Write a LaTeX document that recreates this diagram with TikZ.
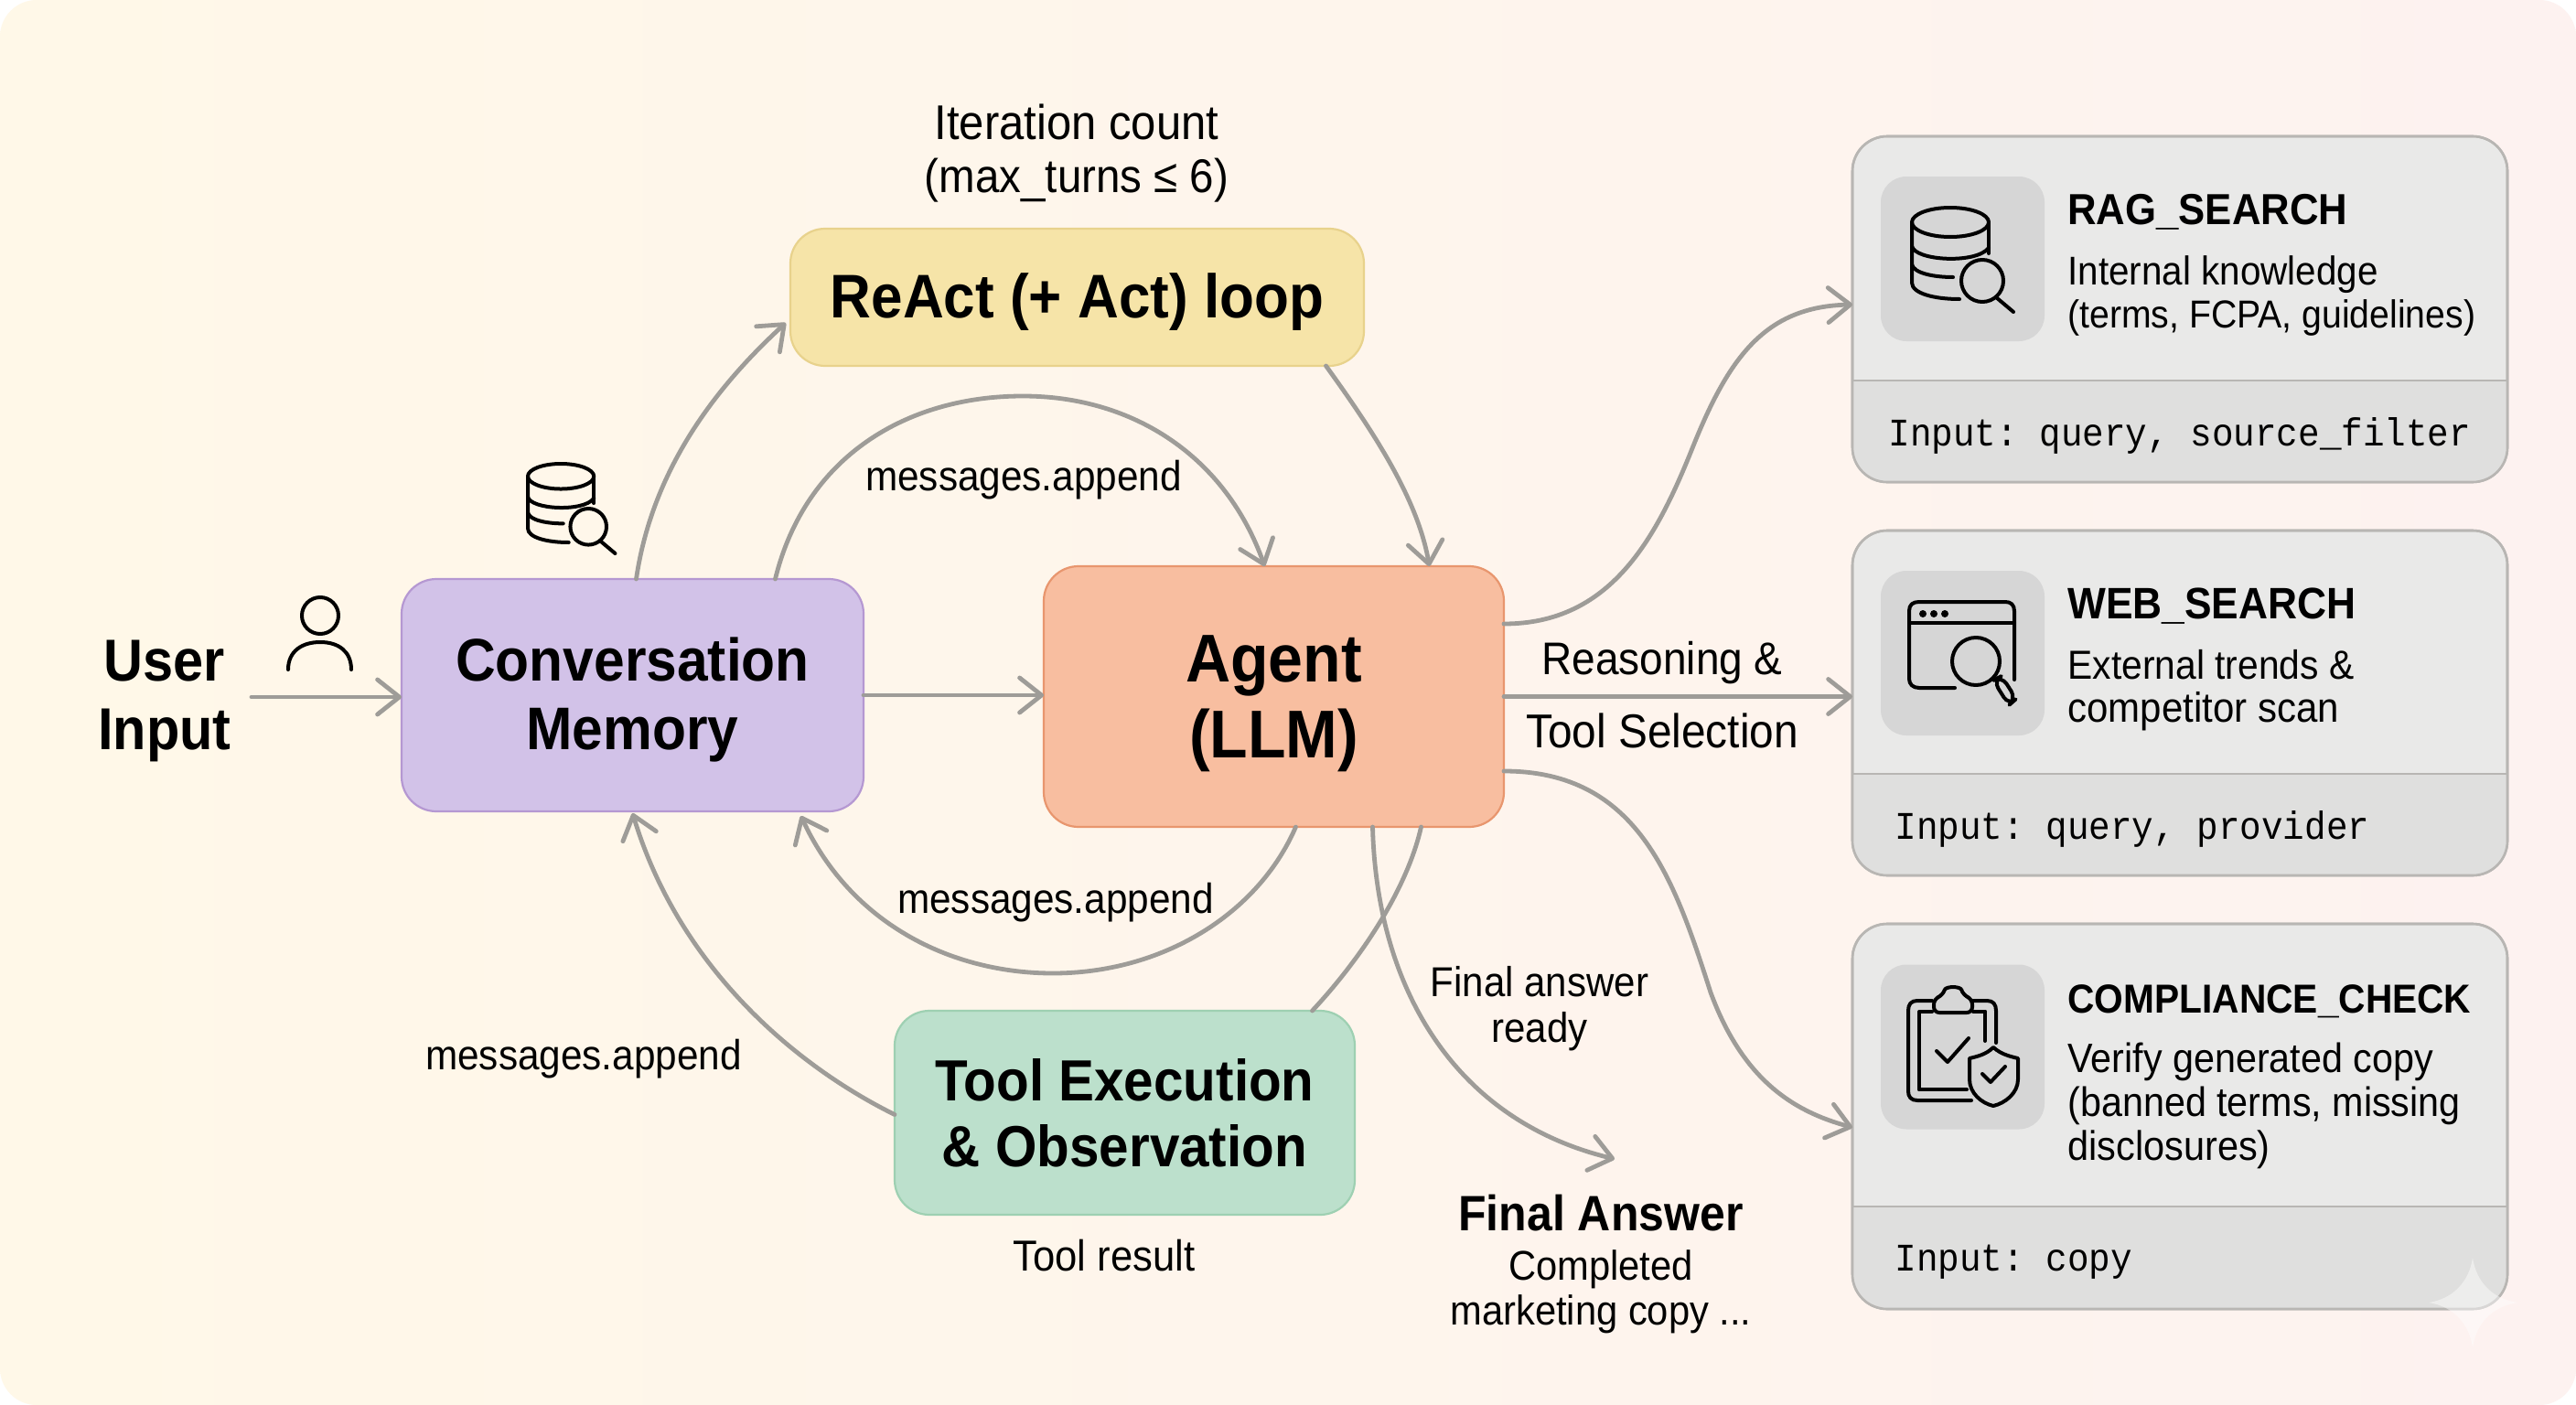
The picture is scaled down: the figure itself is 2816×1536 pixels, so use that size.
\documentclass[tikz,border=0pt]{standalone}
\usepackage{fontspec}
\setmainfont[FakeStretch=0.92]{Liberation Sans}
\setmonofont[FakeStretch=0.92]{Liberation Mono}
\usetikzlibrary{arrows.meta,calc}
\newdimen\pxu \pxu=.5pt
\newdimen\fntu \fntu=.5435pt
\newcommand{\fpx}[2]{\fontsize{#1\fntu}{#2\pxu}\selectfont}
\newcommand{\pushdown}[1]{\rule{0pt}{#1\pxu}}
\definecolor{conn}{HTML}{9E9C98}
\definecolor{cardline}{HTML}{B8B6B3}
\definecolor{cardtop}{HTML}{E9E9E8}
\definecolor{cardbot}{HTML}{DFDFDE}
\definecolor{iconbg}{HTML}{D6D6D6}
\definecolor{bgleft}{HTML}{FFF8E8}
\definecolor{bgmid}{HTML}{FEF6EF}
\definecolor{bgright}{HTML}{FDF2F0}
\definecolor{memfill}{HTML}{D2C2E8}
\definecolor{memline}{HTML}{B598D2}
\definecolor{agfill}{HTML}{F8BEA0}
\definecolor{agline}{HTML}{E8966E}
\definecolor{refill}{HTML}{F6E4A8}
\definecolor{reline}{HTML}{E8D28C}
\definecolor{tofill}{HTML}{BCE0CC}
\definecolor{toline}{HTML}{9ED0B2}
\tikzset{
  flow/.style={draw=conn,line width=2.4pt,line cap=round,-{Straight Barb[length=12pt,width=19pt,line width=2.4pt,round]}},
  plainflow/.style={draw=conn,line width=2.4pt,line cap=round},
  mainbox/.style={rounded corners=19pt,line width=1.1pt,align=center,inner sep=0pt,outer sep=0pt,font=\bfseries},
  card/.style={rounded corners=19pt,draw=cardline,line width=1.3pt,fill=cardtop,inner sep=0pt,outer sep=0pt},
  iconbox/.style={fill=iconbg,rounded corners=14pt,inner sep=0pt,minimum width=89.5pt,minimum height=90pt},
  lbl/.style={align=center,inner sep=0pt},
  icon/.style={draw=black,line width=2pt,line cap=round,line join=round},
  cardtitle/.style={anchor=base west,inner sep=0pt,font=\bfseries},
  carddesc/.style={anchor=base west,inner sep=0pt},
  cardinput/.style={anchor=base west,inner sep=0pt,font=\ttfamily\fpx{39.3}{48}},
  dbicon/.pic={
    \draw[icon] (42,16) ellipse [x radius=42,y radius=16];
    \draw[icon] (0,16) -- (0,82) .. controls (0,94) and (25,100) .. (52,100);
    \draw[icon] (84,16) -- (84,50);
    \draw[icon] (0,42) .. controls (3,58) and (70,62) .. (84,44);
    \draw[icon] (0,62) .. controls (2,72) and (25,76) .. (45,76);
    \draw[icon] (77,80) circle [radius=23];
    \draw[icon] (92,98) -- (111,114);
  },
}
\begin{document}
\begin{tikzpicture}[x=.5pt,y=-.5pt]
\useasboundingbox (0,0) rectangle (2816,1536);
\fill[white] (0,0) rectangle (2816,1536);
\shade[left color=bgleft,middle color=bgmid,right color=bgright,rounded corners=20pt] (0,0) rectangle (2816,1536);

% main boxes
\node[mainbox,draw=memline,fill=memfill,minimum width=252.5pt,minimum height=127pt,font=\bfseries\fpx{60.5}{75}] (mem) at (691.5,760) {\pushdown{58}Conversation\\Memory};
\node[mainbox,draw=agline,fill=agfill,minimum width=251.5pt,minimum height=142.5pt,font=\bfseries\fpx{68}{83}] (agent) at (1392.5,761.5) {\pushdown{65.5}Agent\\(LLM)};
\node[mainbox,draw=reline,fill=refill,minimum width=313.5pt,minimum height=75pt,font=\bfseries\fpx{62}{75}] (react) at (1177.5,325) {\pushdown{58}ReAct (+ Act) loop};
\node[mainbox,draw=toline,fill=tofill,minimum width=251.5pt,minimum height=111.5pt,font=\bfseries\fpx{58.4}{72}] (tool) at (1229.5,1216.5) {Tool Execution\\\& Observation};

% cards
\node[card,minimum width=358pt,minimum height=189pt] (rag) at (2383,338) {};
\node[card,minimum width=358pt,minimum height=188.5pt] (web) at (2383,768.5) {};
\node[card,minimum width=358pt,minimum height=210.5pt] (comp) at (2383,1220.5) {};
\begin{scope}
\clip[rounded corners=19pt] (rag.south west) rectangle (rag.north east);
\fill[cardbot] (2025,416) rectangle (2741,527);
\draw[draw=cardline,line width=1.3pt] (2025,416) -- (2741,416);
\end{scope}
\begin{scope}
\clip[rounded corners=19pt] (web.south west) rectangle (web.north east);
\fill[cardbot] (2025,846) rectangle (2741,957);
\draw[draw=cardline,line width=1.3pt] (2025,846) -- (2741,846);
\end{scope}
\begin{scope}
\clip[rounded corners=19pt] (comp.south west) rectangle (comp.north east);
\fill[cardbot] (2025,1319) rectangle (2741,1431);
\draw[draw=cardline,line width=1.3pt] (2025,1319) -- (2741,1319);
\end{scope}
\draw[cardline,line width=1.3pt,rounded corners=19pt] (rag.south west) rectangle (rag.north east);
\draw[cardline,line width=1.3pt,rounded corners=19pt] (web.south west) rectangle (web.north east);
\draw[cardline,line width=1.3pt,rounded corners=19pt] (comp.south west) rectangle (comp.north east);
\node[iconbox] (ragicon) at (2145.5,283) {};
\node[iconbox] (webicon) at (2145.5,714) {};
\node[iconbox] (compicon) at (2145.5,1144.5) {};

% card text
\node[cardtitle,font=\bfseries\fpx{43.7}{50}] (t1) at (2260,245) {RAG\_SEARCH};
\node[carddesc,font=\fpx{40.4}{48}] (d1a) at (2260,311) {Internal knowledge};
\node[carddesc,font=\fpx{39.2}{48}] (d1b) at (2260,358) {(terms, FCPA, guidelines)};
\node[cardinput] (i1) at (2064,487) {Input: query, source\_filter};
\node[cardtitle,font=\bfseries\fpx{44.3}{50}] (t2) at (2260,676) {WEB\_SEARCH};
\node[carddesc,font=\fpx{40.8}{48}] (d2a) at (2260,742) {External trends \&};
\node[carddesc,font=\fpx{42}{48}] (d2b) at (2260,789) {competitor scan};
\node[cardinput] (i2) at (2071,917) {Input: query, provider};
\node[cardtitle,font=\bfseries\fpx{40.7}{50}] (t3) at (2260,1107) {COMPLIANCE\_CHECK};
\node[carddesc,font=\fpx{41.3}{48}] (d3a) at (2260,1172) {Verify generated copy};
\node[carddesc,font=\fpx{41.3}{48}] (d3b) at (2260,1220) {(banned terms, missing};
\node[carddesc,font=\fpx{41.5}{48}] (d3c) at (2260,1268) {disclosures)};
\node[cardinput] (i3) at (2071,1389) {Input: copy};

% free labels
\node[lbl,font=\bfseries\fpx{59.5}{75}] (user) at (180,766) {User\\Input};
\node[lbl,font=\fpx{49}{58}] (iter) at (1177,168) {Iteration count\\\fpx{47.5}{58}(max\_turns ≤ 6)};
\node[anchor=base,inner sep=0pt,font=\fpx{42.3}{50}] (m1) at (1119,536) {messages.append};
\node[anchor=base,inner sep=0pt,font=\fpx{42.3}{50}] (m2) at (1154,998) {messages.append};
\node[anchor=base,inner sep=0pt,font=\fpx{42.3}{50}] (m3) at (638,1169) {messages.append};
\node[anchor=base,inner sep=0pt,font=\fpx{46}{50}] (r1) at (1817,737) {Reasoning \&};
\node[anchor=base,inner sep=0pt,font=\fpx{47.8}{50}] (r2) at (1817,817) {Tool Selection};
\node[anchor=base,inner sep=0pt,font=\fpx{43.6}{50}] (tr) at (1207,1389) {Tool result};
\node[lbl,font=\fpx{42}{50}] (fa) at (1683,1103) {Final answer\\ready};
\node[anchor=base,inner sep=0pt,font=\bfseries\fpx{50}{60}] (fat) at (1750,1345) {Final Answer};
\node[lbl,font=\fpx{41.7}{49}] (fad) at (1750,1412) {Completed\\marketing copy ...};

% connectors
\coordinate (uend) at (275,762);
\draw[flow] (uend) -- (mem.west |- uend);
\draw[flow] (mem.east) -- (agent.west |- mem.east);
\draw[flow] (agent.east) -- (web.west |- agent.east);
\draw[flow] ([xshift=2pt]mem.north) .. controls (712,520) and (775,430) .. ([xshift=-2.5pt,yshift=-14pt]react.west);
\draw[flow] ([xshift=136pt]react.south) .. controls (1500,470) and (1550,545) .. ([xshift=85pt]agent.north);
\draw[flow] ([xshift=78pt]mem.north) .. controls (880,500) and (990,433) .. (1118,433) .. controls (1240,433) and (1340,500) .. ([xshift=-5pt]agent.north);
\draw[flow] ([xshift=12pt]agent.south) .. controls (1375,1000) and (1270,1064) .. (1151,1064) .. controls (1040,1064) and (930,1010) .. ([xshift=92pt,yshift=-2.5pt]mem.south);
\draw[plainflow] ([xshift=102.5pt]tool.north) .. controls (1495,1040) and (1540,965) .. ([xshift=80.5pt]agent.south);
\draw[flow] ([yshift=-1pt]tool.west) .. controls (860,1160) and (740,1050) .. ([yshift=-1pt]mem.south);
\draw[flow] ([xshift=54pt]agent.south) .. controls (1505,1080) and (1590,1225) .. ([xshift=7.5pt]fat.north |- 0,1267);
\draw[flow] (agent.east |- 0,682) .. controls (1760,682) and (1810,590) .. (1850,490) .. controls (1890,390) and (1930,335) .. ([yshift=2.5pt]rag.west);
\draw[flow] (agent.east |- 0,843) .. controls (1790,843) and (1830,960) .. (1870,1085) .. controls (1905,1180) and (1960,1215) .. ([yshift=-6pt]comp.west);

% icons
\pic at (577,507) [scale=.86] {dbicon};
\pic at (2090,227) {dbicon};
\draw[icon] (350,673) ellipse [x radius=20,y radius=20];
\draw[icon] (315,732) .. controls (315,712) and (330,702) .. (350,702) .. controls (370,702) and (384,712) .. (384,732);
% web icon
\draw[icon] (2137,752) -- (2098,752) .. controls (2091,752) and (2087,748) .. (2087,742) -- (2087,668) .. controls (2087,661) and (2091,658) .. (2098,658) -- (2192,658) .. controls (2198,658) and (2202,661) .. (2202,668) -- (2202,743);
\draw[icon] (2087,681) -- (2202,681);
\fill (2102,671) circle [radius=4]; \fill (2114,671) circle [radius=4]; \fill (2126,671) circle [radius=4];
\draw[icon] (2160,723) circle [radius=26];
\draw[icon,rounded corners=5pt] (2179,744) -- (2188,739) -- (2204,764) -- (2196,771) -- cycle;
% clipboard icon
\draw[icon] (2155,1203) -- (2096,1203) .. controls (2089,1203) and (2086,1199) .. (2086,1193) -- (2086,1105) .. controls (2086,1098) and (2089,1094) .. (2096,1094) -- (2112,1094);
\draw[icon] (2098,1191) -- (2150,1191);
\draw[icon] (2098,1191) -- (2098,1106) -- (2112,1106);
\draw[icon] (2157,1094) -- (2172,1094) .. controls (2179,1094) and (2182,1098) .. (2182,1105) -- (2182,1140);
\draw[icon] (2170,1106) -- (2170,1138);
\draw[icon] (2157,1106) -- (2170,1106);
\draw[icon,rounded corners=3pt] (2114,1107) -- (2156,1107) -- (2156,1092) -- (2146,1088) .. controls (2143,1078) and (2127,1078) .. (2124,1088) -- (2114,1092) -- cycle;
\draw[icon] (2117,1149) -- (2129,1161) -- (2152,1135);
\draw[icon] (2179,1145) .. controls (2188,1153) and (2198,1155) .. (2206,1157) -- (2206,1180) .. controls (2206,1195) and (2192,1206) .. (2179,1209) .. controls (2166,1206) and (2153,1195) .. (2153,1180) -- (2153,1157) .. controls (2161,1155) and (2171,1153) .. (2179,1145) -- cycle;
\draw[icon] (2167,1174) -- (2176,1183) -- (2192,1166);

% watermark sparkle
\fill[white,opacity=.45] (2703,1375) .. controls (2707,1402) and (2725,1420) .. (2752,1424) .. controls (2725,1428) and (2707,1446) .. (2703,1473) .. controls (2699,1446) and (2681,1428) .. (2655,1424) .. controls (2681,1420) and (2699,1402) .. (2703,1375) -- cycle;
\end{tikzpicture}
\end{document}
